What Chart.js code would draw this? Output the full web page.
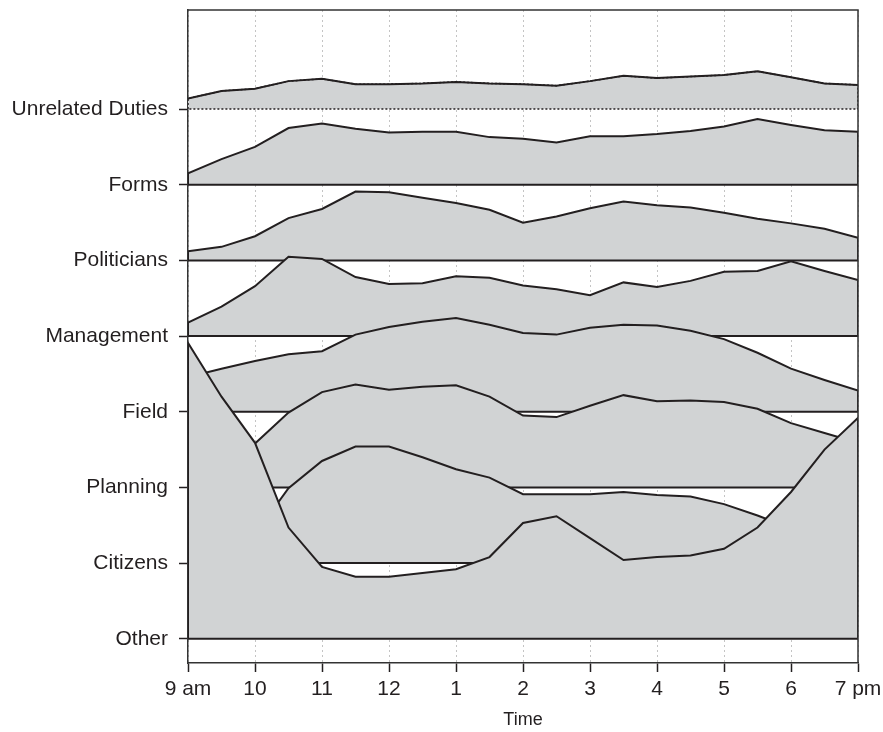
<!DOCTYPE html>
<html>
<head>
<meta charset="utf-8">
<script src="https://cdn.jsdelivr.net/npm/chart.js@4"></script>
<style>
  html, body { margin: 0; padding: 0; background: #fff; }
  #wrap { width: 883px; height: 732px; }
</style>
</head>
<body>
<div id="wrap"><canvas id="chart" width="883" height="732"></canvas></div>
<script>
// category rows, bottom to top (index = row)
const categories = ['Other', 'Citizens', 'Planning', 'Field', 'Management', 'Politicians', 'Forms', 'Unrelated Duties'];
const hours = [9, 9.5, 10, 10.5, 11, 11.5, 12, 12.5, 13, 13.5, 14, 14.5, 15, 15.5, 16, 16.5, 17, 17.5, 18, 18.5, 19];
const tickLabels = ['9 am', '10', '11', '12', '1', '2', '3', '4', '5', '6', '7 pm'];

// ridge heights, one row spacing = 100
const other = [391, 320, 259, 147, 95, 82, 82, 87, 92, 108, 153, 162, 133, 104, 108, 110, 119, 147, 194, 250, 292];
const citizens = [29, 34, 38, 99, 135, 154, 154, 140, 124, 113, 91, 91, 91, 94, 90, 88, 78, 63, 46, 33, 24];
const planning = [40, 50, 58, 99, 126, 136, 129, 133, 135, 120, 95, 93, 108, 122, 114, 115, 113, 104, 85, 72, 59];
const field = [46, 57, 67, 76, 80, 102, 112, 119, 124, 115, 104, 102, 111, 115, 114, 107, 96, 78, 57, 42, 28];
const management = [18, 39, 66, 105, 102, 78, 69, 70, 79, 77, 67, 62, 54, 71, 65, 73, 85, 86, 99, 86, 74];
const politicians = [12, 18, 32, 56, 68, 91, 90, 83, 76, 67, 50, 58, 69, 78, 73, 70, 63, 55, 49, 42, 30];
const forms = [15, 34, 50, 75, 81, 74, 69, 70, 70, 63, 61, 56, 64, 64, 67, 71, 77, 87, 79, 72, 70];
const unrelatedDuties = [14, 24, 27, 37, 40, 33, 33, 34, 36, 34, 33, 31, 37, 44, 41, 43, 45, 50, 42, 34, 32];

const series = [other, citizens, planning, field, management, politicians, forms, unrelatedDuties];
const SPACING = 100;
const ink = '#231f20';
const fillGray = '#d1d3d4';
const fontFamily = '"Liberation Sans", Arial, Helvetica, sans-serif';

// closed outline: up the left edge, along the top, down the right edge, back along the baseline
function ridge(values, row) {
  const base = row * SPACING;
  const pts = [{ x: hours[0], y: base }];
  values.forEach((v, i) => pts.push({ x: hours[i], y: base + v }));
  pts.push({ x: hours[hours.length - 1], y: base });
  pts.push({ x: hours[0], y: base });
  return pts;
}

const topRow = categories.length - 1;

// lower rows get lower order, so they are drawn over the rows above them
const datasets = series.map((values, row) => ({
  label: categories[row],
  data: ridge(values, row),
  order: row * 2,
  fill: 'shape',
  backgroundColor: fillGray,
  borderColor: ink,
  borderWidth: row === topRow ? 1.5 : 2,
  borderDash: row === topRow ? [2, 2] : [],
  pointRadius: 0,
  pointHitRadius: 0,
  tension: 0,
}));

// the top ridge has a dotted outline but a solid top line
datasets.push({
  label: categories[topRow] + ' line',
  data: hours.map((h, i) => ({ x: h, y: topRow * SPACING + unrelatedDuties[i] })),
  order: topRow * 2 - 1,
  fill: false,
  borderColor: ink,
  borderWidth: 2,
  pointRadius: 0,
  pointHitRadius: 0,
  tension: 0,
});

const frame = {
  id: 'frame',
  afterDraw(chart) {
    const { ctx, chartArea: a } = chart;
    ctx.save();
    ctx.strokeStyle = '#333';
    ctx.lineWidth = 1.5;
    ctx.beginPath();
    ctx.moveTo(a.left, a.top);
    ctx.lineTo(a.right, a.top);
    ctx.lineTo(a.right, a.bottom);
    ctx.stroke();
    ctx.restore();
  },
};

new Chart(document.getElementById('chart'), {
  type: 'line',
  data: { datasets },
  options: {
    responsive: false,
    animation: false,
    events: [],
    layout: { padding: { left: 0, top: 10, right: 25, bottom: 0 } },
    plugins: { legend: { display: false }, tooltip: { enabled: false } },
    scales: {
      x: {
        type: 'linear',
        min: 9,
        max: 19,
        afterFit: (scale) => {
          scale.height = 69;
          scale.paddingLeft = 0;
          scale.paddingRight = 0;
        },
        ticks: {
          stepSize: 1,
          maxRotation: 0,
          autoSkip: false,
          padding: 5,
          color: ink,
          font: { family: fontFamily, size: 21 },
          callback: (value, index) => tickLabels[index],
        },
        grid: {
          color: '#c4c4c4',
          lineWidth: 1,
          drawTicks: true,
          tickLength: 9,
          tickColor: ink,
          tickWidth: 1.5,
          tickBorderDash: [],
        },
        border: { display: true, color: '#333', width: 1.5, dash: [2, 3] },
        title: {
          display: true,
          text: 'Time',
          color: ink,
          font: { family: fontFamily, size: 18 },
          padding: { top: 0, bottom: 1 },
        },
      },
      y: {
        type: 'linear',
        min: -32,
        max: 831,
        afterFit: (scale) => {
          scale.width = 188;
          scale.paddingTop = 0;
          scale.paddingBottom = 0;
        },
        afterBuildTicks: (scale) => {
          scale.ticks = categories.map((c, i) => ({ value: i * SPACING }));
        },
        ticks: {
          padding: 11,
          color: ink,
          font: { family: fontFamily, size: 21 },
          callback: (value) => categories[Math.round(value / SPACING)],
        },
        grid: {
          drawOnChartArea: false,
          drawTicks: true,
          tickLength: 9,
          tickColor: ink,
          tickWidth: 1.5,
        },
        border: { display: true, color: '#333', width: 1.5 },
      },
    },
  },
  plugins: [frame],
});
</script>
</body>
</html>
